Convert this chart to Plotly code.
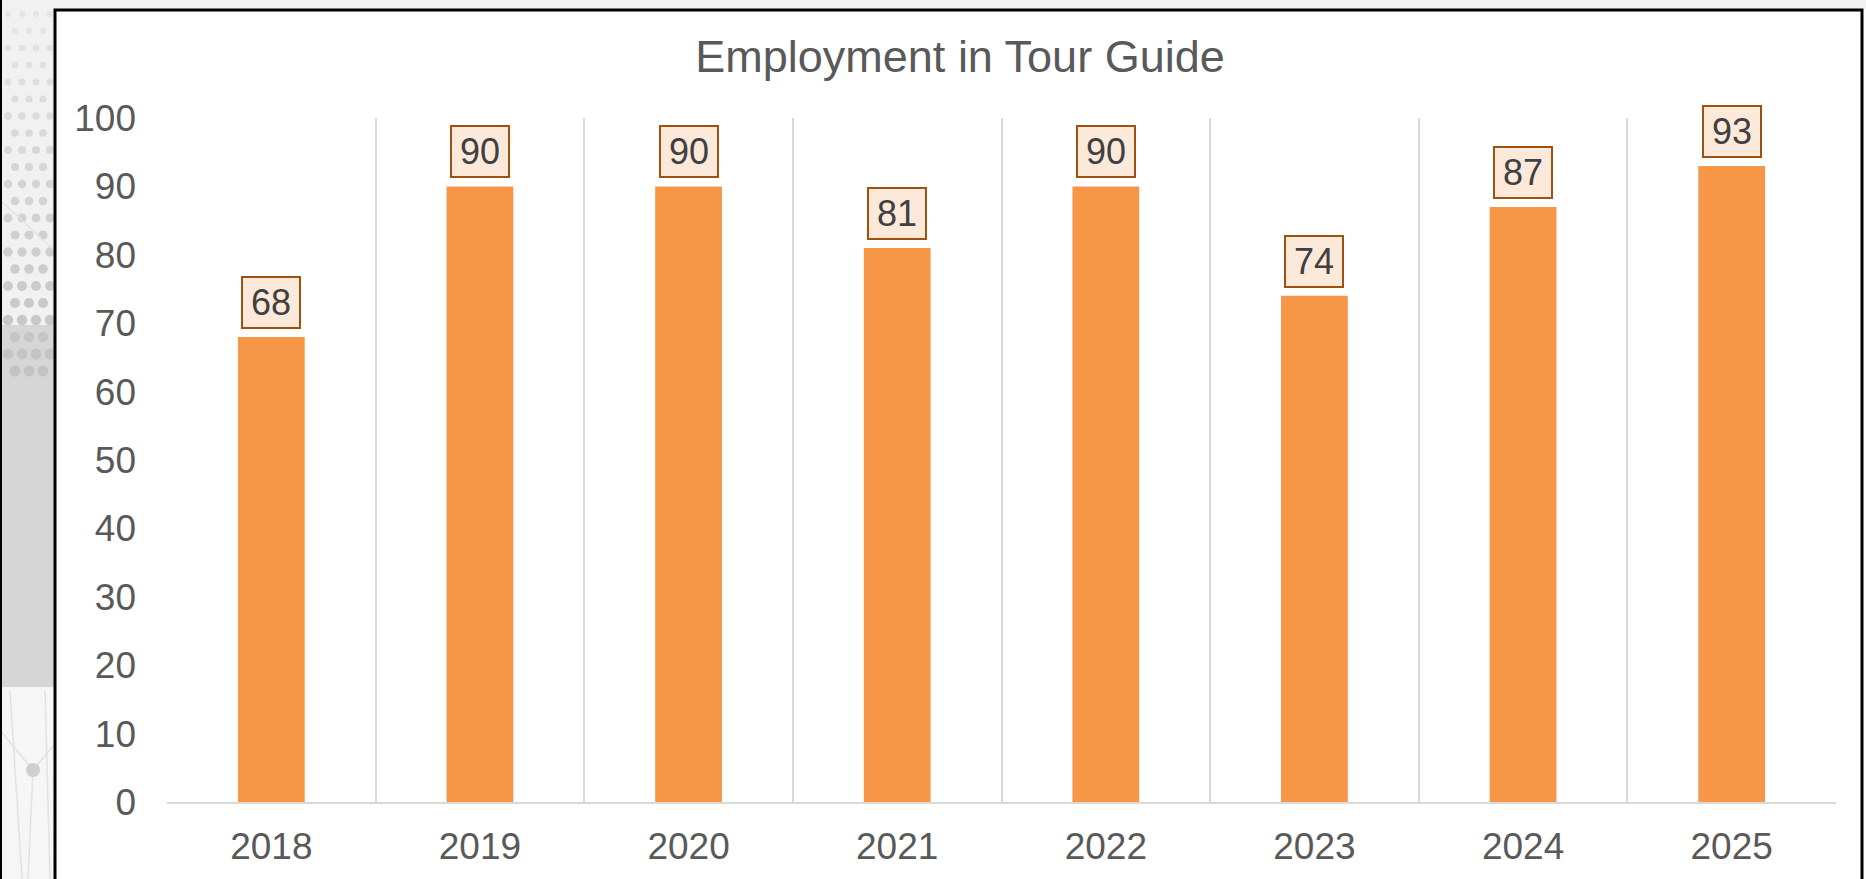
import plotly.graph_objects as go

years = ["2018", "2019", "2020", "2021", "2022", "2023", "2024", "2025"]
employment = [68, 90, 90, 81, 90, 74, 87, 93]
y_ticks = [0, 10, 20, 30, 40, 50, 60, 70, 80, 90, 100]

W, H = 1866, 879
L, R, T, B = 167, 30, 118, 77
plot_w = W - L - R
plot_h = H - T - B


# pixel -> paper helpers for the decorative background
def px(x):
    return (x - L) / plot_w


def py(y):
    return (H - B - y) / plot_h


fig = go.Figure()

fig.add_trace(go.Bar(
    x=years,
    y=employment,
    marker=dict(color="#F79646", line=dict(width=0)),
    hoverinfo="x+y",
))

# data labels in boxes (x given as category index)
for i, v in enumerate(employment):
    fig.add_annotation(
        x=i, y=v, text=str(v), showarrow=False,
        yanchor="bottom", yshift=8,
        width=54, height=47, borderpad=1, borderwidth=2,
        bordercolor="#A0500F", bgcolor="#FDE9DA",
        font=dict(family="Liberation Sans, Arial", size=36, color="#404040"),
    )

shapes = []
# left decorative strip
shapes.append(dict(type="rect", xref="paper", yref="paper", layer="below",
                   x0=px(0), x1=px(54), y0=py(0), y1=py(325),
                   fillcolor="#f1f1f1", line=dict(width=0)))
shapes.append(dict(type="rect", xref="paper", yref="paper", layer="below",
                   x0=px(0), x1=px(54), y0=py(325), y1=py(687),
                   fillcolor="#d6d6d6", line=dict(width=0)))
shapes.append(dict(type="rect", xref="paper", yref="paper", layer="below",
                   x0=px(0), x1=px(54), y0=py(687), y1=py(H),
                   fillcolor="#f6f6f6", line=dict(width=0)))
shapes.append(dict(type="rect", xref="paper", yref="paper", layer="below",
                   x0=px(0), x1=px(W), y0=py(0), y1=py(9),
                   fillcolor="#f1f1f1", line=dict(width=0)))
# dot pattern in the upper part of the strip
for row in range(22):
    yc = 14 + row * 17
    shade = 0xe4 - int(row * 1.6)
    col = "#%02x%02x%02x" % (shade, shade, shade)
    for k in range(4):
        xc = 8 + k * 14 + (row % 2) * 7
        if xc > 50:
            continue
        r = 3 + row * 0.12
        shapes.append(dict(type="circle", xref="paper", yref="paper", layer="below",
                           x0=px(xc - r), x1=px(xc + r), y0=py(yc + r), y1=py(yc - r),
                           fillcolor=col, line=dict(width=0)))
# faint network lines + node in the lower part
for x0, y0, x1, y1 in [(0, 730, 33, 770), (33, 770, 54, 745), (33, 770, 28, 879),
                       (10, 690, 22, 879), (45, 690, 50, 879), (0, 200, 54, 250)]:
    shapes.append(dict(type="line", xref="paper", yref="paper", layer="below",
                       x0=px(x0), x1=px(x1), y0=py(y0), y1=py(y1),
                       line=dict(color="#e2e2e2", width=1.5)))
shapes.append(dict(type="circle", xref="paper", yref="paper", layer="below",
                   x0=px(26), x1=px(40), y0=py(777), y1=py(763),
                   fillcolor="#cfcfcf", line=dict(width=0)))
# black frame of the chart box
shapes.append(dict(type="line", xref="paper", yref="paper",
                   x0=px(1), x1=px(1), y0=py(0), y1=py(H),
                   line=dict(color="black", width=2)))
shapes.append(dict(type="rect", xref="paper", yref="paper",
                   x0=px(55), x1=px(1862), y0=py(10), y1=py(H + 20),
                   line=dict(color="black", width=3)))

fig.update_layout(
    width=W, height=H,
    margin=dict(l=L, r=R, t=T, b=B, autoexpand=False),
    paper_bgcolor="white",
    plot_bgcolor="white",
    showlegend=False,
    bargap=0.68,
    shapes=shapes,
    title=dict(
        text="Employment in Tour Guide",
        x=px(960), xref="paper", xanchor="center",
        y=1 - 56 / H, yref="container", yanchor="middle",
        font=dict(family="Liberation Sans, Arial", size=45, color="#595959"),
    ),
    font=dict(family="Liberation Sans, Arial", size=37, color="#595959"),
    xaxis=dict(
        type="category",
        range=[-0.5, len(years) - 0.5],
        tickson="boundaries",
        showgrid=True, gridcolor="#d9d9d9", gridwidth=2,
        showline=True, linecolor="#d9d9d9", linewidth=2,
        ticks="", ticklabelstandoff=11, automargin=False,
        tickfont=dict(size=37, color="#595959"),
    ),
    yaxis=dict(
        range=[0, 100],
        tickvals=y_ticks,
        showgrid=False, zeroline=False, showline=False,
        ticks="", ticklabelstandoff=30, automargin=False,
        tickfont=dict(size=37, color="#595959"),
    ),
)

fig.write_html(
    "out.html",
    config={"displayModeBar": False},
    post_script="document.body.style.margin='0';document.body.style.overflow='hidden';",
)
